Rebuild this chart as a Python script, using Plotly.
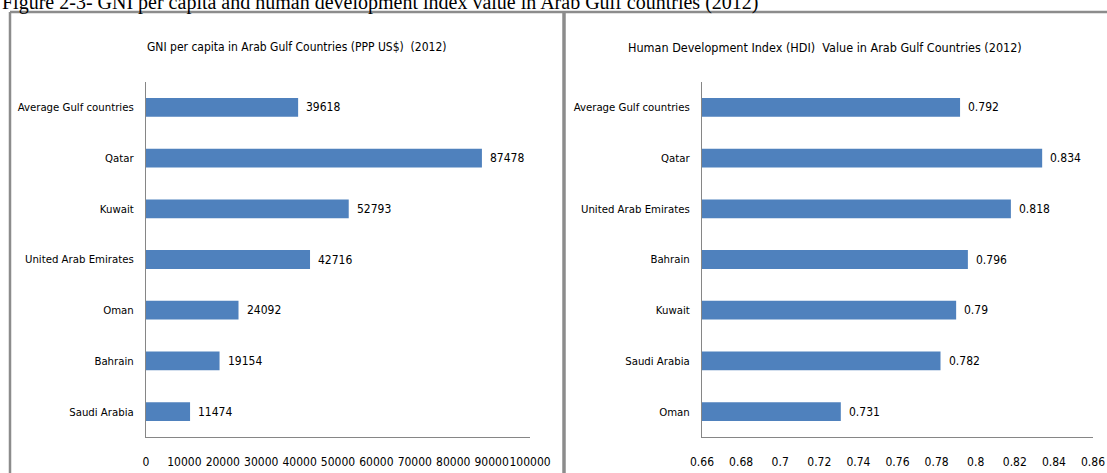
import plotly.graph_objects as go

# ---- data ----
gni_countries = ["Average Gulf countries", "Qatar", "Kuwait", "United Arab Emirates",
                 "Oman", "Bahrain", "Saudi Arabia"]
gni_values = [39618, 87478, 52793, 42716, 24092, 19154, 11474]

hdi_countries = ["Average Gulf countries", "Qatar", "United Arab Emirates", "Bahrain",
                 "Kuwait", "Saudi Arabia", "Oman"]
hdi_values = [0.792, 0.834, 0.818, 0.796, 0.79, 0.782, 0.731]
hdi_labels = ["0.792", "0.834", "0.818", "0.796", "0.79", "0.782", "0.731"]

gni_ticks = [0, 10000, 20000, 30000, 40000, 50000, 60000, 70000, 80000, 90000, 100000]
hdi_ticks = [0.66, 0.68, 0.70, 0.72, 0.74, 0.76, 0.78, 0.80, 0.82, 0.84, 0.86]
hdi_ticktext = ["0.66", "0.68", "0.7", "0.72", "0.74", "0.76", "0.78", "0.8", "0.82", "0.84", "0.86"]

caption = "Figure 2-3- GNI per capita and human development index value in Arab Gulf countries (2012)"
title_gni = "GNI per capita in Arab Gulf Countries (PPP US$)  (2012)"
title_hdi = "Human Development Index (HDI)  Value in Arab Gulf Countries (2012)"

W, H = 1107, 473
BAR = "#4F81BD"
AX = "#868686"
FONT = "DejaVu Sans Condensed, Liberation Sans Narrow, Liberation Sans, sans-serif"

fig = go.Figure()
fig.add_trace(go.Bar(x=gni_values, y=gni_countries, orientation="h",
                     marker=dict(color=BAR, line=dict(width=0)),
                     xaxis="x", yaxis="y", showlegend=False, hoverinfo="x+y"))
fig.add_trace(go.Bar(x=hdi_values, y=hdi_countries, orientation="h",
                     marker=dict(color=BAR, line=dict(width=0)),
                     xaxis="x2", yaxis="y2", showlegend=False, hoverinfo="x+y"))

annotations = []
for c, v in zip(gni_countries, gni_values):
    annotations.append(dict(x=v, y=c, xref="x", yref="y", text=str(v), showarrow=False,
                            xanchor="left", xshift=6, font=dict(family=FONT, size=12, color="#000")))
for c, v, t in zip(hdi_countries, hdi_values, hdi_labels):
    annotations.append(dict(x=v, y=c, xref="x2", yref="y2", text=t, showarrow=False,
                            xanchor="left", xshift=6, font=dict(family=FONT, size=12, color="#000")))

annotations.append(dict(x=0, y=1 - 2.5 / H, xref="paper", yref="paper", text=caption,
                        showarrow=False, xanchor="left", yanchor="middle",
                        font=dict(family="Liberation Serif, Times New Roman, serif", size=20, color="#000")))
annotations.append(dict(x=296 / W, y=1 - 47 / H, xref="paper", yref="paper", text=title_gni,
                        showarrow=False, xanchor="center", yanchor="middle",
                        font=dict(family=FONT, size=12, color="#000")))
annotations.append(dict(x=825 / W, y=1 - 47 / H, xref="paper", yref="paper", text=title_hdi,
                        showarrow=False, xanchor="center", yanchor="middle",
                        font=dict(family=FONT, size=12.5, color="#000")))

shapes = [
    dict(type="line", xref="paper", yref="paper", x0=10 / W, x1=10 / W, y0=0, y1=1 - 12 / H,
         line=dict(color="#8c8c8c", width=2.5)),
    dict(type="line", xref="paper", yref="paper", x0=10 / W, x1=1, y0=1 - 12 / H, y1=1 - 12 / H,
         line=dict(color="#8c8c8c", width=2.5)),
    dict(type="line", xref="paper", yref="paper", x0=564 / W, x1=564 / W, y0=0, y1=1 - 12 / H,
         line=dict(color="#8c8c8c", width=3.5)),
]

ydom = [1 - 437 / H, 1 - 82 / H]
common_x = dict(showgrid=False, zeroline=False, showline=True, linecolor=AX, linewidth=1,
                ticks="outside", ticklen=14, tickcolor="rgba(0,0,0,0)", tickangle=0,
                automargin=False,
                tickfont=dict(family=FONT, size=12, color="#000"), fixedrange=True)
common_y = dict(showgrid=False, zeroline=False, showline=True, linecolor=AX, linewidth=1,
                ticks="outside", ticklen=9, tickcolor="rgba(0,0,0,0)", automargin=False,
                tickfont=dict(family=FONT, size=11.3, color="#000"), autorange="reversed",
                fixedrange=True)

fig.update_layout(
    width=W, height=H, autosize=False,
    margin=dict(l=0, r=0, t=0, b=0, pad=0, autoexpand=False),
    paper_bgcolor="white", plot_bgcolor="white",
    bargap=0.63,
    xaxis=dict(domain=[146 / W, 530 / W], range=[0, 100000], tickvals=gni_ticks,
               ticktext=[str(t) for t in gni_ticks], anchor="y", **common_x),
    yaxis=dict(domain=ydom, anchor="x", categoryorder="array", categoryarray=gni_countries, **common_y),
    xaxis2=dict(domain=[702 / W, 1093 / W], range=[0.66, 0.86], tickvals=hdi_ticks,
                ticktext=hdi_ticktext, anchor="y2", **common_x),
    yaxis2=dict(domain=ydom, anchor="x2", categoryorder="array", categoryarray=hdi_countries, **common_y),
    annotations=annotations,
    shapes=shapes,
)

post = ("document.documentElement.style.margin='0';document.documentElement.style.overflow='hidden';"
        "document.body.style.margin='0';document.body.style.padding='0';document.body.style.overflow='hidden';")

fig.write_html("out.html", config={"displayModeBar": False}, post_script=post)
